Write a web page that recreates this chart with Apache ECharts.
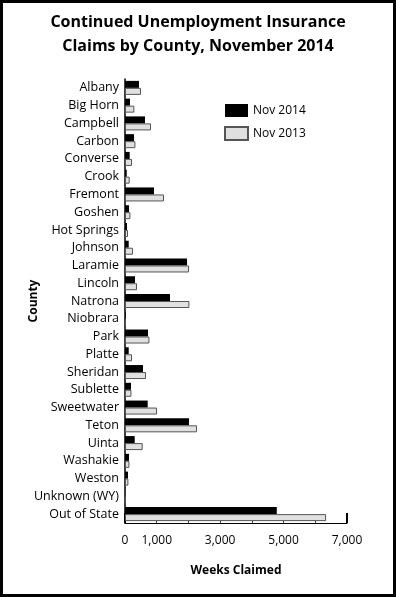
<!DOCTYPE html>
<html>
<head>
<meta charset="utf-8">
<script src="https://cdn.jsdelivr.net/npm/echarts@6/dist/echarts.min.js"></script>
<style>
html,body{margin:0;padding:0;background:#fff;}
#wrap{position:relative;width:396px;height:597px;}
#chart{width:396px;height:597px;}
#frame{position:absolute;left:0;top:0;width:396px;height:597px;box-sizing:border-box;border:3px solid #000;pointer-events:none;}
</style>
</head>
<body>
<div id="wrap"><div id="chart"></div><div id="frame"></div></div>
<script>
// counties listed top-to-bottom
const counties = ["Albany","Big Horn","Campbell","Carbon","Converse","Crook","Fremont","Goshen","Hot Springs","Johnson","Laramie","Lincoln","Natrona","Niobrara","Park","Platte","Sheridan","Sublette","Sweetwater","Teton","Uinta","Washakie","Weston","Unknown (WY)","Out of State"];
const nov2014 = [442,158,631,284,148,54,915,126,63,117,1956,315,1420,22,726,117,568,189,716,2019,306,126,95,5,4786];
const nov2013 = [505,295,820,328,221,148,1230,170,95,252,2019,379,2031,32,770,221,662,202,1010,2271,558,139,107,20,6341];
const xTickLabels = ["0","1,000","","3,000","","5,000","","7,000"];

const cats = counties.slice().reverse();
const d14 = nov2014.slice().reverse();
const d13 = nov2013.slice().reverse();

const font = '"Open Sans", "DejaVu Sans", sans-serif';
const chart = echarts.init(document.getElementById('chart'), null, {renderer:'canvas'});
chart.setOption({
  animation:false,
  title:{
    text:'Continued Unemployment Insurance\nClaims by County, November 2014',
    left:'center', top:5,
    textStyle:{fontFamily:font, fontSize:16, fontWeight:'bold', color:'#000', lineHeight:24}
  },
  legend:{
    orient:'vertical', left:219, top:99, itemWidth:23, itemHeight:13, itemGap:9, icon:'rect',
    textStyle:{fontFamily:font, fontSize:12, color:'#000'},
    data:['Nov 2014','Nov 2013']
  },
  grid:{left:125, right:49, top:79, bottom:74, containLabel:false},
  xAxis:[{
    type:'value', min:0, max:7000, interval:1000,
    name:'Weeks Claimed', nameLocation:'middle', nameGap:42,
    nameTextStyle:{fontFamily:font, fontSize:12, fontWeight:'bold', color:'#000'},
    axisLine:{show:true, lineStyle:{color:'#000', width:1}},
    axisTick:{show:true, inside:true, length:3, lineStyle:{color:'#444'}},
    axisLabel:{fontFamily:font, fontSize:12, color:'#000', margin:12,
      formatter:function(v){ return xTickLabels[Math.round(v/1000)]; }},
    splitLine:{show:false}
  },{
    type:'value', min:0, max:7000, interval:7000, position:'bottom',
    axisLine:{show:false},
    axisTick:{show:true, inside:true, length:10, lineStyle:{color:'#000', width:2}},
    axisLabel:{show:false}, splitLine:{show:false}
  }],
  yAxis:{
    type:'category', data:cats,
    name:'County', nameLocation:'middle', nameGap:85, nameRotate:90, nameMoveOverlap:false,
    nameTextStyle:{fontFamily:font, fontSize:12, fontWeight:'bold', color:'#000'},
    axisLine:{show:true, lineStyle:{color:'#000', width:1.5}},
    axisTick:{show:false},
    axisLabel:{fontFamily:font, fontSize:12.5, color:'#000', margin:6}
  },
  series:[
    {name:'Nov 2014', type:'bar', data:d14, barWidth:7, barGap:'0%',
     itemStyle:{color:'#000'}},
    {name:'Nov 2013', type:'bar', data:d13, barWidth:7, barGap:'0%',
     itemStyle:{color:'#e0e0e0', borderColor:'#555', borderWidth:1}}
  ]
});
</script>
</body>
</html>
